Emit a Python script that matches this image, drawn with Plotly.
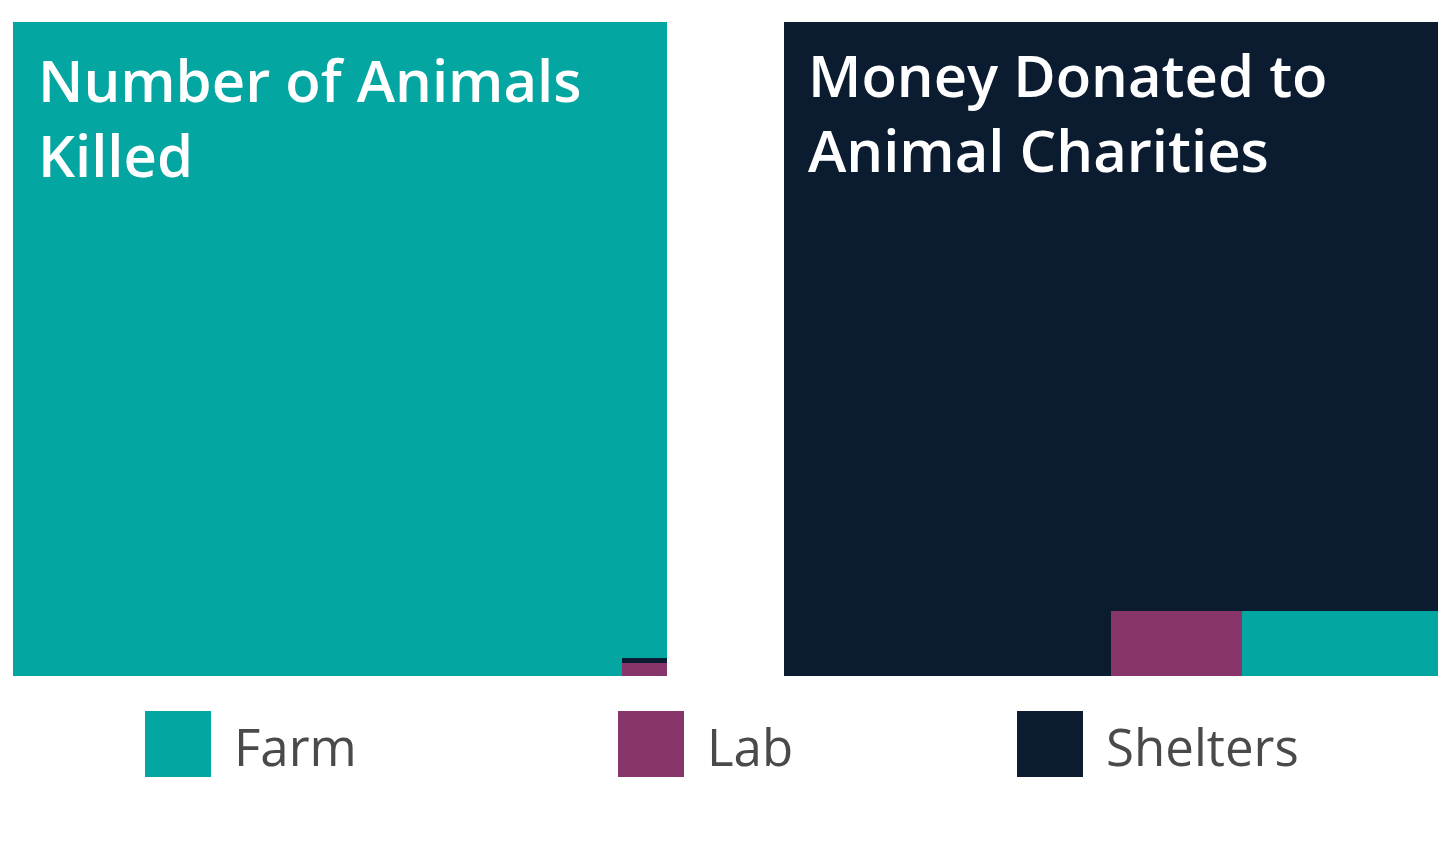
import plotly.graph_objects as go

# --- Data (percent of total)
categories = ["Farm", "Lab", "Shelters"]
animals_killed_pct = [99.81, 0.14, 0.05]
donations_pct = [3.0, 2.0, 95.0]
panel_titles = ["Number of Animals<br>Killed", "Money Donated to<br>Animal Charities"]

colors = {"Farm": "#03a6a1", "Lab": "#87356a", "Shelters": "#0b1b30"}

# page is 1456x848, the plot div sits inside the 8px body margin
OFF = 8
W, H = 1440, 832


def px_x(p):
    return (p - OFF) / W


def px_y(p):
    return 1 - (p - OFF) / H


fig = go.Figure()

# --- Left panel: farm fills the square, lab + shelters stacked in a thin corner block
corner_w = 0.069
y0 = 0.0
fig.add_trace(go.Bar(x=[0.5], y=[1], base=[0], width=[1], marker_color=colors["Farm"],
                     marker_line_width=0, name="Farm", xaxis="x", yaxis="y", showlegend=False))
for cat in ["Lab", "Shelters"]:
    h = animals_killed_pct[categories.index(cat)] / 100 / corner_w
    fig.add_trace(go.Bar(x=[1 - corner_w / 2], y=[h], base=[y0], width=[corner_w],
                         marker_color=colors[cat], marker_line_width=0, name=cat,
                         xaxis="x", yaxis="y", showlegend=False))
    y0 += h

# --- Right panel: shelters fill the square, farm + lab in a bottom-right strip
strip_h = 0.1
fig.add_trace(go.Bar(x=[0.5], y=[1], base=[0], width=[1], marker_color=colors["Shelters"],
                     marker_line_width=0, name="Shelters", xaxis="x2", yaxis="y2", showlegend=False))
x1 = 1.0
for cat in ["Farm", "Lab"]:
    w = donations_pct[categories.index(cat)] / 100 / strip_h
    fig.add_trace(go.Bar(x=[x1 - w / 2], y=[strip_h], base=[0], width=[w],
                         marker_color=colors[cat], marker_line_width=0, name=cat,
                         xaxis="x2", yaxis="y2", showlegend=False))
    x1 -= w

# --- Legend: big square swatches on a full-page overlay axis
swatch_x = [178, 651, 1050]
swatch_y = 744
fig.add_trace(go.Scatter(x=swatch_x, y=[swatch_y] * 3, mode="markers",
                         marker=dict(symbol="square", size=66, color=[colors[c] for c in categories],
                                     line_width=0),
                         xaxis="x3", yaxis="y3", showlegend=False, hoverinfo="skip"))

annotations = []
for sx, cat in zip(swatch_x, categories):
    annotations.append(dict(x=px_x(sx + 54), y=px_y(swatch_y + 2), xref="paper", yref="paper",
                            text=cat, showarrow=False, xanchor="left", yanchor="middle",
                            font=dict(family="Open Sans", size=51, color="#4a4a4a")))

title_font = dict(family="Open Sans", size=58, color="white", weight=600)
annotations.append(dict(x=px_x(36), y=px_y(38), xref="paper", yref="paper", text=panel_titles[0],
                        showarrow=False, xanchor="left", yanchor="top", align="left",
                        font=title_font))
annotations.append(dict(x=px_x(806), y=px_y(33), xref="paper", yref="paper", text=panel_titles[1],
                        showarrow=False, xanchor="left", yanchor="top", align="left",
                        font=title_font))

hidden = dict(visible=False, showgrid=False, zeroline=False, fixedrange=True)
fig.update_layout(
    width=W,
    height=H,
    barmode="overlay",
    bargap=0,
    margin=dict(l=0, r=0, t=0, b=0),
    paper_bgcolor="white",
    plot_bgcolor="rgba(0,0,0,0)",
    xaxis=dict(domain=[px_x(13), px_x(667)], range=[0, 1], **hidden),
    yaxis=dict(domain=[px_y(676), px_y(22)], range=[0, 1], **hidden),
    xaxis2=dict(domain=[px_x(784), px_x(1438)], range=[0, 1], **hidden),
    yaxis2=dict(domain=[px_y(676), px_y(22)], range=[0, 1], **hidden),
    xaxis3=dict(domain=[0, 1], range=[OFF, OFF + W], **hidden),
    yaxis3=dict(domain=[0, 1], range=[OFF + H, OFF], **hidden),
    annotations=annotations,
)

fig.write_html("out.html")
